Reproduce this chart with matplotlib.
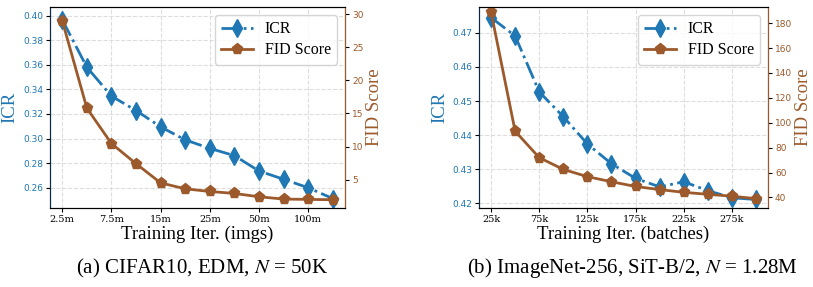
import matplotlib.pyplot as plt
import numpy as np

# CIFAR10 / EDM
cifar_ticks = ["2.5m", "7.5m", "15m", "25m", "50m", "100m"]
cifar_icr = [0.3965, 0.358, 0.3345, 0.3228, 0.3095, 0.2989, 0.292, 0.2861, 0.2736, 0.2669, 0.260, 0.2512]
cifar_fid = [29.0, 15.8, 10.45, 7.4, 4.5, 3.6, 3.2, 2.9, 2.4, 2.05, 2.0, 1.95]

# ImageNet-256 / SiT-B/2
imnet_ticks = ["25k", "75k", "125k", "175k", "225k", "275k"]
imnet_icr = [0.4745, 0.4691, 0.4527, 0.4454, 0.4374, 0.4316, 0.4273, 0.4248, 0.4263, 0.4237, 0.4216, 0.4211]
imnet_fid = [189, 93.2, 72, 62.5, 56.7, 52.6, 48.8, 46.3, 44.1, 42.5, 41, 39]

blue = "#1f77b4"
brown = "#9c5a2c"
serif = "Liberation Serif"
plt.rcParams["mathtext.fontset"] = "stix"

fig = plt.figure(figsize=(8.13, 2.87), dpi=100)


def panel(rect, icr, fid, ticks, xlabel, caption, icr_lim, icr_ticks, fid_lim, fid_ticks, cap_x):
    ax = fig.add_axes(rect)
    x = np.arange(len(icr))
    l1, = ax.plot(x, icr, color=blue, ls="-.", lw=2, marker="d", ms=9, label="ICR")
    ax2 = ax.twinx()
    l2, = ax2.plot(x, fid, color=brown, ls="-", lw=2, marker="p", ms=8, label="FID Score")
    ax.set_xticks(x[::2])
    ax.set_xticklabels(ticks, family="DejaVu Serif", fontsize=7)
    ax.set_xlim(-0.5, len(icr) - 0.5)
    ax.set_ylim(*icr_lim)
    ax.set_yticks(icr_ticks)
    ax2.set_ylim(*fid_lim)
    ax2.set_yticks(fid_ticks)
    ax.tick_params(axis="x", length=3, pad=2)
    ax.tick_params(axis="y", labelcolor=blue, labelsize=6.5, length=3, pad=2)
    ax2.tick_params(axis="y", labelcolor=brown, labelsize=6.5, length=3, pad=2)
    ax.grid(True, ls="--", color="#dddddd", lw=0.8)
    ax.set_axisbelow(True)
    ax.set_ylabel("ICR", color=blue, family=serif, fontsize=13.5, labelpad=3)
    ax2.set_ylabel("FID Score", color=brown, family=serif, fontsize=13.5, labelpad=2)
    ax.set_xlabel(xlabel, family=serif, fontsize=13.5, labelpad=1)
    ax2.spines["right"].set_color(brown)
    ax2.spines["left"].set_color("#0b2a4a")
    ax.legend([l1, l2], ["ICR", "FID Score"], loc="upper right",
              prop={"family": serif, "size": 11.5}, handlelength=2.0,
              handletextpad=0.7, labelspacing=0.3, borderaxespad=0.5)
    fig.text(cap_x, 1 - 268 / 287, caption, ha="center", va="center", family=serif, fontsize=15)
    return ax, ax2


panel([50 / 813, 79 / 287, 295 / 813, 201 / 287], cifar_icr, cifar_fid, cifar_ticks,
      "Training Iter. (imgs)", "(a) CIFAR10, EDM, $N$ = 50K",
      (0.2435, 0.407), [0.26, 0.28, 0.30, 0.32, 0.34, 0.36, 0.38, 0.40],
      (0.7, 31.1), [5, 10, 15, 20, 25, 30], 202 / 813)

panel([479 / 813, 79 / 287, 289 / 813, 201 / 287], imnet_icr, imnet_fid, imnet_ticks,
      "Training Iter. (batches)", "(b) ImageNet-256, SiT-B/2, $N$ = 1.28M",
      (0.4186, 0.4776), [0.42, 0.43, 0.44, 0.45, 0.46, 0.47],
      (31.5, 193), [40, 60, 80, 100, 120, 140, 160, 180], 632 / 813)

fig.savefig("out.png", dpi=100)
